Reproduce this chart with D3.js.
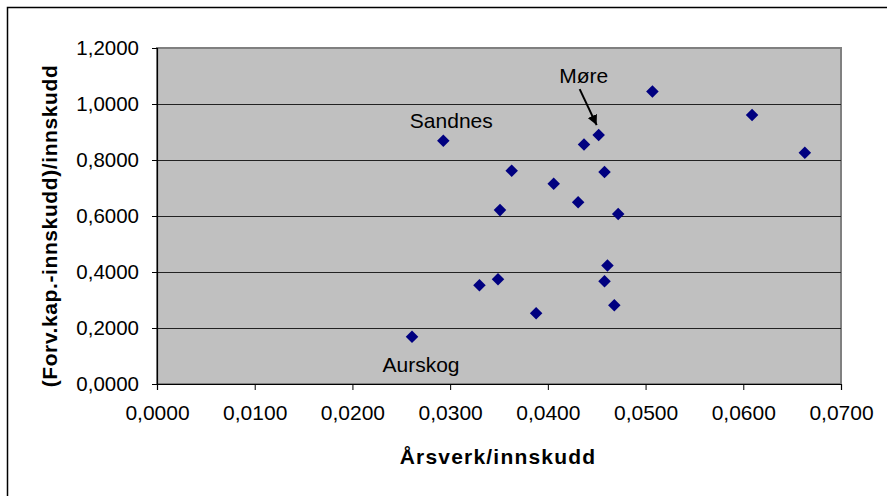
<!DOCTYPE html>
<html lang="no">
	<head>
		<meta charset="utf-8" />
		<title>Årsverk/innskudd</title>
		<style>
			body { margin:0; background:#fff; }
			text { font-family: Arial, "Liberation Sans", sans-serif; }
		</style>
	</head>
	<body>
		<script src="https://cdn.jsdelivr.net/npm/d3@7/dist/d3.min.js"></script>
		<script>
			// verdier lest av bildet
			var xVals = [0.0293, 0.0437, 0.0452, 0.0363, 0.0406, 0.0431, 0.0458, 0.0507, 0.0609, 0.0663,
				0.0472, 0.0351, 0.0461, 0.0458, 0.0468, 0.0349, 0.0330, 0.0388, 0.0261];
			var yVals = [0.869, 0.855, 0.889, 0.762, 0.715, 0.649, 0.757, 1.045, 0.961, 0.826,
				0.607, 0.621, 0.423, 0.367, 0.281, 0.374, 0.353, 0.253, 0.169];
			var xTicks = [0, 0.01, 0.02, 0.03, 0.04, 0.05, 0.06, 0.07];
			var yTicks = [0, 0.2, 0.4, 0.6, 0.8, 1.0, 1.2];
			var labels = [
				{name:'Sandnes', i:0, dx:8, dy:-13},
				{name:'Aurskog', i:18, dx:9, dy:35},
				{name:'Møre', i:2, dx:-15, dy:-52}
			];

			var W = 887, H = 496;
			var pL = 157, pT = 48, pR = 841, pB = 384;
			var fmt = function(v) { return d3.format('.4f')(v).replace('.', ','); };

			var svg = d3.select('body').append('svg')
				.attr('width', W)
				.attr('height', H);

			// ytre ramme
			svg.append('rect')
				.attr('x', 7.5).attr('y', 7.5)
				.attr('width', 900).attr('height', 520)
				.attr('fill', 'none').attr('stroke', '#000').attr('stroke-width', 1.5);

			var x = d3.scaleLinear().domain([0, 0.07]).range([pL, pR]);
			var y = d3.scaleLinear().domain([0, 1.2]).range([pB, pT]);

			svg.append('rect')
				.attr('x', pL).attr('y', pT)
				.attr('width', pR - pL).attr('height', pB - pT)
				.attr('fill', '#c0c0c0').attr('stroke', '#808080').attr('stroke-width', 2);

			// rutenett
			svg.append('g').selectAll('line')
				.data(yTicks.filter(function(d) { return d > 0 && d < 1.2; }))
				.enter().append('line')
				.attr('x1', pL).attr('x2', pR)
				.attr('y1', function(d) { return Math.round(y(d)) + 0.5; })
				.attr('y2', function(d) { return Math.round(y(d)) + 0.5; })
				.attr('stroke', '#222').attr('stroke-width', 1.2);

			var yAxis = svg.append('g')
				.attr('transform', 'translate(' + pL + ',0)')
				.call(d3.axisLeft(y).tickValues(yTicks).tickFormat(fmt).tickSize(5).tickPadding(13));
			var xAxis = svg.append('g')
				.attr('transform', 'translate(0,' + pB + ')')
				.call(d3.axisBottom(x).tickValues(xTicks).tickFormat(fmt).tickSize(6).tickPadding(15));
			[yAxis, xAxis].forEach(function(a, k) {
				a.select('.domain').attr('stroke', '#000').attr('stroke-width', 1.2);
				a.selectAll('.tick line').attr('stroke', '#000');
				a.selectAll('.tick text')
					.attr('fill', '#000')
					.style('font-size', k === 0 ? '20.5px' : '21px')
					.style('font-family', 'Arial, "Liberation Sans", sans-serif');
			});

			// punkter
			var diamond = d3.symbol().type(d3.symbolDiamond2).size(100);
			svg.append('g').selectAll('path')
				.data(xVals)
				.enter().append('path')
				.attr('d', diamond)
				.attr('transform', function(d, i) { return 'translate(' + x(d) + ',' + y(yVals[i]) + ')'; })
				.attr('fill', '#000080');

			// etiketter
			svg.append('g').selectAll('text')
				.data(labels)
				.enter().append('text')
				.attr('x', function(d) { return x(xVals[d.i]) + d.dx; })
				.attr('y', function(d) { return y(yVals[d.i]) + d.dy; })
				.attr('text-anchor', 'middle')
				.style('font-size', '21px')
				.text(function(d) { return d.name; });

			// pil til Møre
			svg.append('defs').append('marker')
				.attr('id', 'pil')
				.attr('viewBox', '0 0 10 10')
				.attr('refX', 10).attr('refY', 5)
				.attr('markerWidth', 5).attr('markerHeight', 5)
				.attr('orient', 'auto')
				.append('path').attr('d', 'M0,0L10,5L0,10z').attr('fill', '#000');
			var m = labels[2];
			svg.append('line')
				.attr('x1', x(xVals[m.i]) - 19).attr('y1', y(yVals[m.i]) - 46)
				.attr('x2', x(xVals[m.i]) - 2).attr('y2', y(yVals[m.i]) - 10)
				.attr('stroke', '#000').attr('stroke-width', 2)
				.attr('marker-end', 'url(#pil)');

			// aksetitler
			svg.append('text')
				.attr('x', 498).attr('y', 464)
				.attr('text-anchor', 'middle')
				.style('font-size', '21px').style('font-weight', 'bold')
				.style('letter-spacing', '1.2px')
				.text('Årsverk/innskudd');
			svg.append('text')
				.attr('transform', 'translate(57,226) rotate(-90)')
				.attr('text-anchor', 'middle')
				.style('font-size', '21px').style('font-weight', 'bold')
				.style('letter-spacing', '0.6px')
				.text('(Forv.kap.-innskudd)/innskudd');
		</script>
	</body>
</html>
